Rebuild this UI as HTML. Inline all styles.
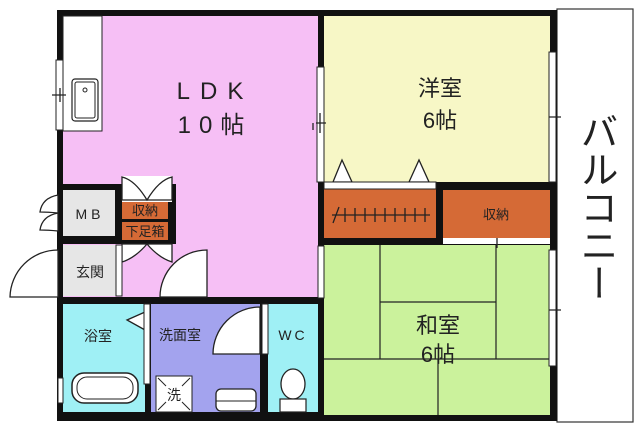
<!DOCTYPE html><html><head><meta charset="utf-8"><style>body{margin:0;background:#fff}svg{display:block}text{font-family:"Liberation Sans","Noto Sans CJK JP",sans-serif;fill:#222}.v{position:absolute;left:574px;top:112px;writing-mode:vertical-rl;font-family:"Liberation Sans","Noto Sans CJK JP",sans-serif;font-size:38px;line-height:42px;color:#222;letter-spacing:0px}</style></head><body style="position:relative">
<svg width="640" height="429" viewBox="0 0 640 429">
<rect x="557" y="9" width="76" height="413" fill="#fff" stroke="#333" stroke-width="1.2"/>
<rect x="57" y="10" width="500" height="411" fill="#111"/>
<rect x="63" y="16" width="255" height="281" fill="#f6bff5"/>
<rect x="63" y="16" width="39" height="115" fill="#fff" stroke="#222" stroke-width="1"/>
<rect x="72" y="79" width="26" height="42" rx="3" fill="#fff" stroke="#222" stroke-width="1.2"/>
<rect x="75" y="82" width="20" height="36" rx="2" fill="none" stroke="#222"/>
<circle cx="85" cy="90" r="2" fill="none" stroke="#222"/>
<rect x="324" y="16" width="226" height="166" fill="#f7f7c6"/>
<rect x="324" y="189" width="112" height="49" fill="#d56a36"/>
<rect x="443" y="190" width="107" height="48" fill="#d56a36"/>
<rect x="443" y="238" width="107" height="6" fill="#fff"/>
<rect x="324" y="245" width="226" height="170" fill="#cbf29c"/>
<g stroke="#222" stroke-width="1.2" fill="none">
<path d="M380 245V359M496 245V359M380 302H496M324 359H550M438 359V415"/>
</g>
<!-- MB/収納 block black -->
<rect x="58" y="184" width="118" height="60" fill="#111"/>
<rect x="63" y="190" width="52" height="46" fill="#e6e6e6"/>
<rect x="63" y="245" width="53" height="51" fill="#e6e6e6"/>
<rect x="122" y="202" width="46" height="17" fill="#d56a36"/>
<rect x="122" y="222" width="46" height="18" fill="#d56a36"/>
<rect x="63" y="304" width="82" height="108" fill="#9ff0f5"/>
<rect x="151" y="304" width="109" height="108" fill="#a3a3ee"/>
<rect x="268" y="304" width="50" height="108" fill="#9ff0f5"/>
<rect x="122" y="176" width="50" height="26" fill="#fff"/>
<rect x="122" y="244" width="50" height="52" fill="#f6bff5"/>
<g stroke="#222" stroke-width="1.3" fill="#fff">
<path d="M122 177 Q135 180 147 200 Q159 180 172 177 V200 H122Z"/>
<path d="M122 262 Q135 258 147 244 Q159 258 172 262 V244 H122Z"/>
<path d="M58 195 Q42 198 40 212 Q48 212 58 213Z M58 213 Q42 216 40 230 Q48 230 58 231Z"/>
<path d="M58 297 H10 A48 48 0 0 1 58 250Z"/>
<path d="M160 297 A47 47 0 0 1 207 250 V297Z"/>
<path d="M260 307 A47 47 0 0 0 213 354 H260Z"/>
<path d="M127 320 L145 312 V330Z"/>
<path d="M333 182 L342 160 L352 182Z M409 182 L419 160 L429 182Z"/>
</g>
<g fill="#fff" stroke="#222" stroke-width="1">
<rect x="56" y="60" width="7" height="70"/>
<rect x="317" y="67" width="7" height="115"/>
<rect x="549" y="52" width="7" height="130"/>
<rect x="549" y="250" width="7" height="116"/>
<rect x="318" y="246" width="6" height="52"/>
<rect x="144" y="304" width="6" height="80"/>
<rect x="262" y="304" width="6" height="50"/>
<rect x="58" y="378" width="5" height="25"/>
<rect x="116" y="245" width="6" height="51"/>
<rect x="324" y="182" width="112" height="7"/>
</g>
<g stroke="#222" stroke-width="1.3">
<path d="M52 95H66M60 88V102M316 123H326M320 113V133M313 123V130M549 117H561M549 310H561M497 238V248M332 215H430"/>
<path d="M333 223L339 207M345 222V208M355 222V208M365 222V208M375 222V208M385 222V208M395 222V208M405 222V208M415 222V208M425 222V208"/>
</g>
<rect x="72" y="373" width="66" height="30" rx="12" fill="#fff" stroke="#222" stroke-width="1.5"/>
<rect x="77" y="377" width="56" height="22" rx="10" fill="none" stroke="#222"/>
<rect x="156" y="376" width="36" height="36" fill="#fff" stroke="#222"/>
<path d="M158 378l8 8M190 378l-8 8M158 410l8-8M190 410l-8-8" stroke="#222"/>
<rect x="216" y="389" width="40" height="22" rx="5" fill="#fff" stroke="#222" stroke-width="1.3"/>
<path d="M216 401H256" stroke="#222"/>
<ellipse cx="293" cy="384" rx="12" ry="15" fill="#fff" stroke="#222" stroke-width="1.3"/>
<rect x="280" y="399" width="26" height="13" fill="#fff" stroke="#222" stroke-width="1.2"/>
<text x="215" y="99" font-size="24" text-anchor="middle" letter-spacing="10">LDK</text>
<text x="215" y="133" font-size="24" text-anchor="middle" letter-spacing="8">10帖</text>
<text x="440" y="96" font-size="22" text-anchor="middle">洋室</text>
<text x="440" y="128" font-size="22" text-anchor="middle">6帖</text>
<text x="438" y="333" font-size="22" text-anchor="middle">和室</text>
<text x="438" y="362" font-size="22" text-anchor="middle">6帖</text>
<text x="496" y="219" font-size="13" text-anchor="middle">収納</text>
<text x="145" y="215" font-size="13" text-anchor="middle">収納</text>
<text x="145" y="236" font-size="13" text-anchor="middle">下足箱</text>
<text x="90" y="219" font-size="14" text-anchor="middle" letter-spacing="4">MB</text>
<text x="90" y="277" font-size="14" text-anchor="middle">玄関</text>
<text x="98" y="341" font-size="14" text-anchor="middle">浴室</text>
<text x="180" y="340" font-size="14" text-anchor="middle">洗面室</text>
<text x="293" y="340" font-size="14" text-anchor="middle" letter-spacing="3">WC</text>
<text x="174" y="400" font-size="14" text-anchor="middle">洗</text>
</svg>
<div class="v">バルコニー</div>
</body></html>
